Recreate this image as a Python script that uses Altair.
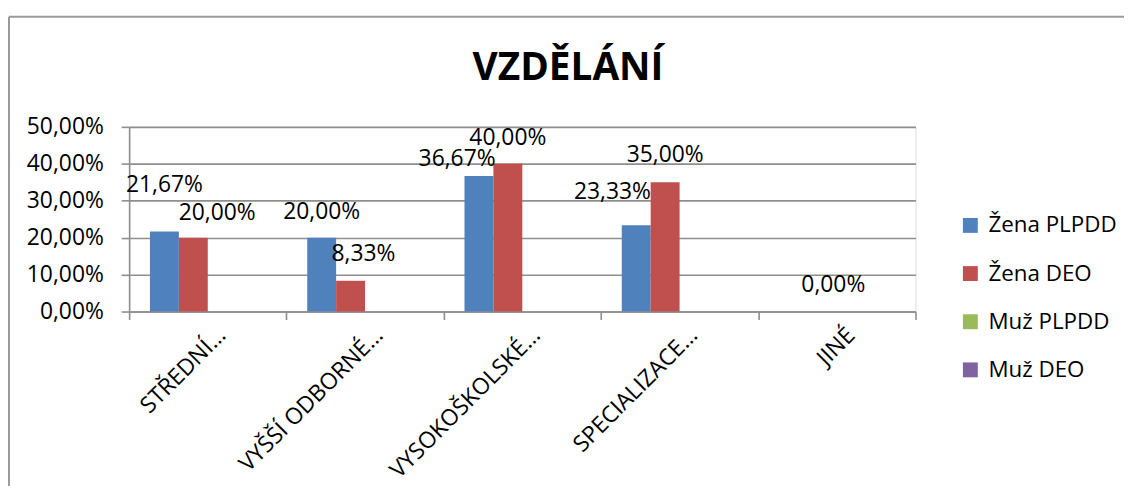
import altair as alt
import pandas as pd

categories = ["STŘEDNÍ…", "VYŠŠÍ ODBORNÉ…", "VYSOKOŠKOLSKÉ…", "SPECIALIZACE…", "JINÉ"]
series = ["Žena PLPDD", "Žena DEO", "Muž PLPDD", "Muž DEO"]
zena_plpdd = [0.2167, 0.2000, 0.3667, 0.2333, None]
zena_deo = [0.2000, 0.0833, 0.4000, 0.3500, 0.0]
muz_plpdd = [None, None, None, None, None]
muz_deo = [None, None, None, None, None]
colors = ["#4F81BD", "#C0504D", "#9BBB59", "#8064A2"]
y_ticks = [0, 0.1, 0.2, 0.3, 0.4, 0.5]

values = [zena_plpdd, zena_deo, muz_plpdd, muz_deo]
rows = []
for si, s in enumerate(series):
    for ci, c in enumerate(categories):
        rows.append({"cat": c, "series": s, "v": values[si][ci], "ci": ci, "si": si})
df = pd.DataFrame(rows)

FONT = "Open Sans"
GRID = "#8e8e8e"

# label nudges (dx, dy) in pixels, mimicking the reference's label placement
label_nudge = {
    (0, 0): (0, -47), (0, 1): (24, -25),
    (1, 0): (0, -26), (1, 1): (13, -27),
    (2, 0): (-22, -17), (2, 1): (0, -26),
    (3, 0): (-24, -34), (3, 1): (0, -27),
    (4, 1): (11, -27),
}

x_enc = alt.X("cat:N", sort=categories, title=None,
              scale=alt.Scale(paddingInner=0, paddingOuter=0),
              axis=alt.Axis(labelAngle=-45, labelAlign="right", labelBaseline="middle",
                            labelFont=FONT, labelFontSize=23, labelColor="#000",
                            labelPadding=12, labelOffset=14, labelLimit=400,
                            labelOverlap=False,
                            tickBand="extent", tickSize=8, tickColor=GRID, tickWidth=1.6,
                            domainColor=GRID, domainWidth=1.6, grid=False))
xoff_enc = alt.XOffset("series:N", sort=series,
                       scale=alt.Scale(domain=series, paddingOuter=0.72, paddingInner=0))
y_enc = alt.Y("v:Q", title=None,
              scale=alt.Scale(domain=[0, 0.5], nice=False),
              axis=alt.Axis(values=y_ticks,
                            labelExpr="replace(format(datum.value, '.2%'), '.', ',')",
                            labelFont=FONT, labelFontSize=23, labelColor="#000",
                            labelOverlap=False, labelFlush=False,
                            labelPadding=18, tickSize=8, tickColor=GRID, tickWidth=1.6,
                            domainColor=GRID, domainWidth=1.6,
                            gridColor=GRID, gridWidth=1.6))

base = alt.Chart(df)

bars = base.mark_bar().encode(
    x=x_enc,
    xOffset=xoff_enc,
    y=y_enc,
    color=alt.Color("series:N", sort=series,
                    scale=alt.Scale(domain=series, range=colors),
                    legend=alt.Legend(title=None, orient="none", legendX=836, legendY=88,
                                      symbolType="square", symbolSize=225,
                                      symbolStrokeWidth=0,
                                      labelFont=FONT, labelFontSize=22.5, labelColor="#000",
                                      labelOffset=7, rowPadding=25.5, padding=0,
                                      labelLimit=300)),
)

layers = [bars]
for (ci, si), (dx, dy) in label_nudge.items():
    t = base.transform_filter(
        (alt.datum.ci == ci) & (alt.datum.si == si)
    ).transform_calculate(
        lab="replace(format(datum.v, '.2%'), '.', ',')"
    ).mark_text(font=FONT, fontSize=23, color="#000", baseline="middle",
                align="center", dx=dx, dy=dy).encode(
        x=x_enc,
        xOffset=xoff_enc,
        y=y_enc,
        text="lab:N",
    )
    layers.append(t)

frame_data = alt.Data(values=[{"k": 1}])
frame_left = alt.Chart(frame_data).mark_rule(color="#9a9a9a", strokeWidth=2).encode(
    x=alt.value(-121), y=alt.value(-111), y2=alt.value(370))
frame_top = alt.Chart(frame_data).mark_rule(color="#9a9a9a", strokeWidth=2).encode(
    x=alt.value(-121), x2=alt.value(1010), y=alt.value(-111))
layers += [frame_left, frame_top]

chart = alt.layer(*layers).properties(
    width=792, height=186,
    title=alt.TitleParams("VZDĚLÁNÍ", font=FONT, fontSize=39, fontWeight="bold",
                          color="#000", anchor="middle", dx=46, offset=-104,
                          baseline="alphabetic"),
    autosize=alt.AutoSizeParams(type="none"),
    padding={"left": 122, "top": 118, "right": 210, "bottom": 174},
).configure_view(stroke=None).configure(background="white")

chart.save("out.html", embed_options={"renderer": "svg", "actions": False})
